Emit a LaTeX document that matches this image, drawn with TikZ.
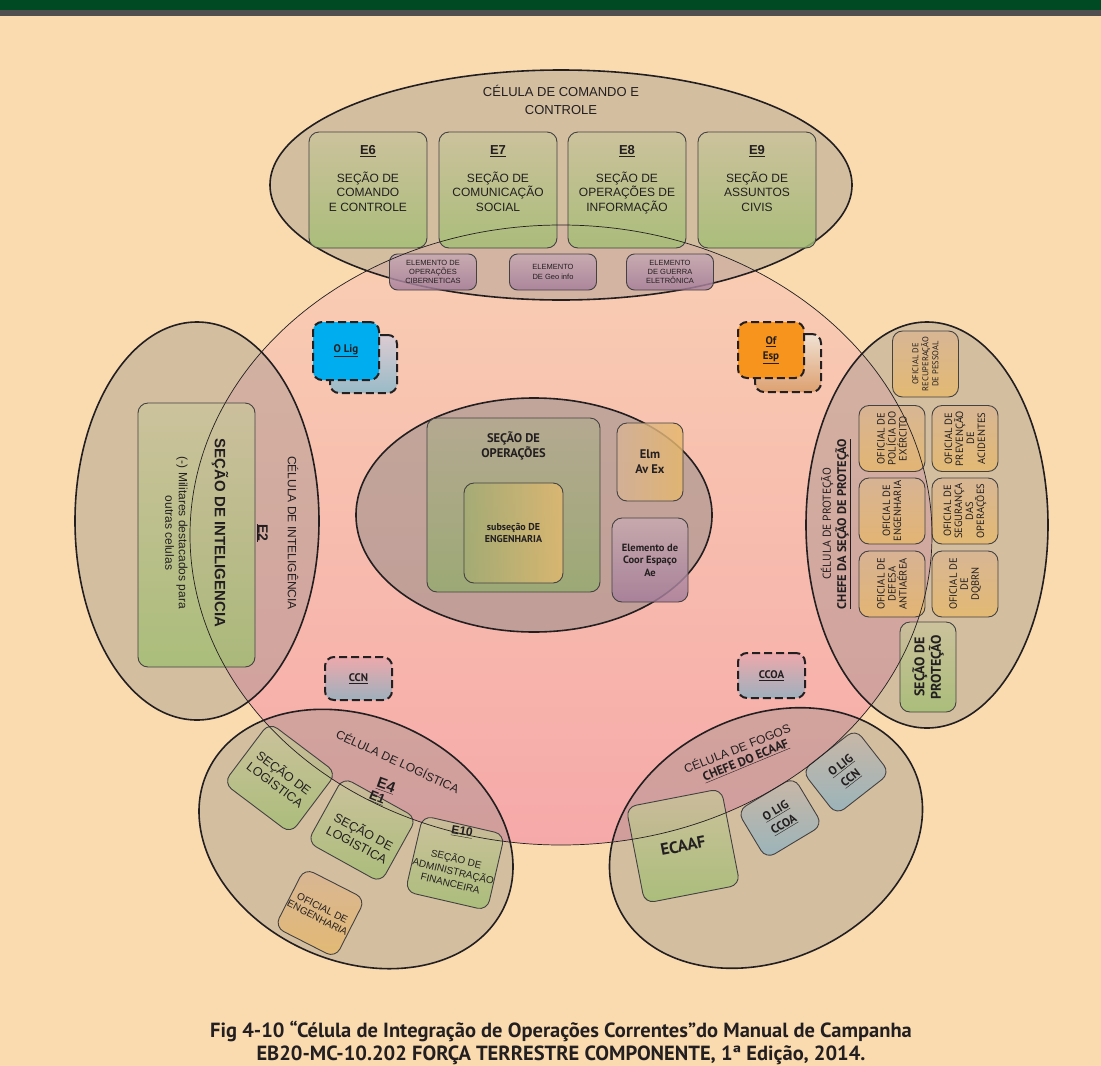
\documentclass[tikz,border=0pt]{standalone}
\usepackage{fontspec}
\setmainfont{Liberation Sans}
\newfontfamily\myr{PT Sans}
\usetikzlibrary{positioning,calc}
\definecolor{bgpeach}{HTML}{FADBB0}
\definecolor{bargreen}{HTML}{004A23}
\definecolor{bargrey}{HTML}{4F4F4F}
\definecolor{circtop}{HTML}{F9CFB3}
\definecolor{circbot}{HTML}{F6A9A9}
\definecolor{cellgrey}{HTML}{8D8885}
\definecolor{inkc}{HTML}{231F20}
\definecolor{gtop}{HTML}{CBC39C}
\definecolor{gbot}{HTML}{A2BE73}
\definecolor{ptop}{HTML}{C6A9B4}
\definecolor{pbot}{HTML}{A47C9A}
\definecolor{otop}{HTML}{D9B592}
\definecolor{obot}{HTML}{E7B86A}
\definecolor{btop}{HTML}{C8B6A8}
\definecolor{bbot}{HTML}{8DB3C1}
\definecolor{cyanlig}{HTML}{00AEEF}
\definecolor{orgesp}{HTML}{F7941D}
\definecolor{espbot}{HTML}{DDA070}
\tikzset{
  cell/.style  ={draw=inkc, line width=1.6pt, fill=cellgrey, fill opacity=0.35},
  cellc/.style ={cell, fill opacity=0.5},
  box/.style   ={rectangle, rounded corners=10pt, draw=inkc!85, line width=0.9pt,
                 fill opacity=0.82, text opacity=1, text=inkc, align=center, inner sep=1pt},
  sec/.style   ={box, top color=gtop, bottom color=gbot},
  seclbl/.style={text=inkc, align=center, inner sep=0pt, font=\fontsize{12}{14.5}\selectfont},
  elem/.style  ={box, top color=ptop, bottom color=pbot, rounded corners=8pt,
                 minimum width=87pt, minimum height=36pt, font=\fontsize{7.5}{9.3}\selectfont},
  ofc/.style   ={box, top color=otop, bottom color=obot, rotate=90,
                 minimum width=66pt, minimum height=66pt, font=\myr\fontsize{10.5}{11}\selectfont},
  ligb/.style  ={box, top color=btop, bottom color=bbot,
                 font=\myr\bfseries\fontsize{12}{16}\selectfont},
  dsh/.style   ={rectangle, rounded corners=9pt, draw=inkc, line width=2pt,
                 dash pattern=on 8pt off 4pt, align=center, text=inkc,
                 font=\myr\bfseries\fontsize{11}{15}\selectfont},
  lbl/.style   ={text=inkc, align=center, inner sep=0pt},
  lblb/.style  ={lbl, font=\myr\bfseries\fontsize{12.5}{15}\selectfont}
}
\begin{document}
\begin{tikzpicture}[x=1pt, y=-1pt]
  % page, header band
  \useasboundingbox (0,0) rectangle (1101,1066);
  \fill[bgpeach] (0,0) rectangle (1101,1066);
  \fill[bargreen] (0,0) rectangle (1101,9.5);
  \fill[bargrey] (0,9.5) rectangle (1101,15.5);

  % integration circle (outline drawn at the end)
  \shade[top color=circtop, bottom color=circbot] (561,535) ellipse [x radius=371pt, y radius=310pt];

  % cells
  \draw[cell] (561,185) ellipse [x radius=291pt, y radius=115pt];
  \draw[cell] (197,521) ellipse [x radius=122pt, y radius=199pt];
  \draw[cell] (927,525) ellipse [x radius=121pt, y radius=203pt];
  \draw[cell, rotate around={-24:(356,839)}] (356,839) ellipse [x radius=163pt, y radius=122pt];
  \draw[cell, rotate around={25:(766,838)}] (766,838) ellipse [x radius=163pt, y radius=122pt];
  \draw[cellc] (534,515) ellipse [x radius=178pt, y radius=117pt];

  % comando e controle
  \node[lbl, font=\fontsize{13}{17.5}\selectfont] (c2cell) at (561,100) {CÉLULA DE COMANDO E\\CONTROLE};
  \node[sec, minimum width=118pt, minimum height=116pt] (e6) at (368,190) {};
  \node[sec, minimum width=118pt, minimum height=116pt] (e7) at (498,190) {};
  \node[sec, minimum width=118pt, minimum height=116pt] (e8) at (627,190) {};
  \node[sec, minimum width=118pt, minimum height=116pt] (e9) at (757,190) {};
  \node[seclbl, below=14pt of e6.north] (e6l) {{\fontsize{13}{15}\selectfont\bfseries\underline{E6}}\\[13pt]SEÇÃO DE\\COMANDO\\E CONTROLE};
  \node[seclbl, below=14pt of e7.north] (e7l) {{\fontsize{13}{15}\selectfont\bfseries\underline{E7}}\\[13pt]SEÇÃO DE\\COMUNICAÇÃO\\SOCIAL};
  \node[seclbl, below=14pt of e8.north] (e8l) {{\fontsize{13}{15}\selectfont\bfseries\underline{E8}}\\[13pt]SEÇÃO DE\\OPERAÇÕES DE\\INFORMAÇÃO};
  \node[seclbl, below=14pt of e9.north] (e9l) {{\fontsize{13}{15}\selectfont\bfseries\underline{E9}}\\[13pt]SEÇÃO DE\\ASSUNTOS\\CIVIS};
  \node[elem] (ciber) at (433,272) {ELEMENTO DE\\OPERAÇÕES\\CIBERNETICAS};
  \node[elem] (geo) at (553,272) {ELEMENTO\\DE Geo info};
  \node[elem] (guerra) at (670,272) {ELEMENTO\\DE GUERRA\\ELETRÔNICA};

  % inteligencia
  \node[sec, rotate=-90, minimum width=264pt, minimum height=117pt] (e2box) at (196.5,535) {};
  \node[lbl, rotate=-90, font=\bfseries\fontsize{15}{17}\selectfont] (e2name) at (220,533) {SEÇÃO DE INTELIGENCIA};
  \node[lbl, rotate=-90, font=\fontsize{12}{13.5}\selectfont] (e2note) at (176.5,533) {(-) Militares destacados para\\outras celulas};
  \node[lbl, rotate=-90, font=\bfseries\fontsize{14}{16}\selectfont] (e2) at (262,533) {\underline{E2}};
  \node[lbl, rotate=-90, font=\fontsize{12}{14}\selectfont] (intcell) at (293,533) {CÉLULA DE INTELIGÊNCIA};

  % protecao
  \node[lbl, rotate=90, font=\myr\fontsize{11.5}{13}\selectfont] (protcell) at (827,524) {CÉLULA DE PROTEÇÃO};
  \node[lblb, rotate=90] (protchief) at (843,524) {\underline{CHEFE DA SEÇÃO DE PROTEÇÃO}};
  \node[ofc, font=\myr\fontsize{8.5}{10}\selectfont] (recup) at (925.5,364) {OFICIAL DE\\RECUPERAÇÃO\\DE PESSOAL};
  \node[ofc] (policia) at (892,438.5) {OFICIAL DE\\POLÍCIA DO\\EXÉRCITO};
  \node[ofc] (prevenc) at (965,438.5) {OFICIAL DE\\PREVENÇÃO\\DE\\ACIDENTES};
  \node[ofc] (engoff) at (892,511) {OFICIAL DE\\ENGENHARIA};
  \node[ofc] (segur) at (965,511) {OFICIAL DE\\SEGURANÇA\\DAS\\OPERAÇÕES};
  \node[ofc] (defesa) at (892,584) {OFICIAL DE\\DEFESA\\ANTIAÉREA};
  \node[ofc] (dqbrn) at (965,584) {OFICIAL DE\\DE\\DQBRN};
  \node[sec, rotate=90, minimum width=90pt, minimum height=56pt,
        font=\myr\bfseries\fontsize{14}{16.5}\selectfont] (secprot) at (928,667) {SEÇÃO DE\\PROTEÇÃO};

  % operacoes
  \node[box, top color=gtop!80!inkc!90, bottom color=gbot!85!inkc!95, minimum width=173pt, minimum height=174pt] (ops) at (513.5,505) {};
  \node[lblb, below=14pt of ops.north] (opsl) {SEÇÃO DE\\OPERAÇÕES};
  \node[box, left color=gbot!70!otop!90!inkc, right color=obot!90!gtop, minimum width=99pt, minimum height=100pt,
        font=\myr\bfseries\fontsize{10}{11.5}\selectfont] (subeng) at (513.5,533) {subseção DE\\ENGENHARIA};
  \node[box, left color=otop!85!ptop, right color=obot, minimum width=66pt, minimum height=78pt,
        font=\myr\bfseries\fontsize{12.5}{15}\selectfont] (avex) at (650,462) {Elm\\Av Ex};
  \node[box, top color=ptop!90!otop, bottom color=pbot, minimum width=76pt, minimum height=84pt,
        font=\myr\bfseries\fontsize{10.5}{12.5}\selectfont] (coor) at (650,560) {Elemento de\\Coor Espaço\\Ae};

  % ligacoes
  \node[dsh, top color=ptop!60!white, bottom color=bbot!90!white, minimum width=67pt, minimum height=58pt] (ligback) at (363.5,364) {};
  \node[dsh, fill=cyanlig, minimum width=66pt, minimum height=58pt] (lig) at (346,351) {\underline{O Lig}};
  \node[dsh, top color=otop!40!white, bottom color=espbot, minimum width=66pt, minimum height=58pt] (espback) at (788,363) {};
  \node[dsh, fill=orgesp, minimum width=66pt, minimum height=56pt] (esp) at (771,350) {\underline{Of}\\\underline{Esp}};
  \node[dsh, top color=circbot!80!ptop, bottom color=bbot!70!ptop, minimum width=67pt, minimum height=43pt] (ccn) at (358.5,678.5) {\underline{CCN}};
  \node[dsh, top color=circbot!80!ptop, bottom color=bbot!70!ptop, minimum width=67pt, minimum height=45pt] (ccoa) at (771.5,675.5) {\underline{CCOA}};

  % logistica
  \node[lbl, rotate=-25, font=\fontsize{12}{14}\selectfont] (logcell) at (398,761) {CÉLULA DE LOGÍSTICA};
  \node[sec, rotate=-37, minimum width=84pt, minimum height=76pt,
        font=\fontsize{12.5}{14.5}\selectfont] (log1) at (280,778) {SEÇÃO DE\\LOGISTICA};
  \node[sec, rotate=-29, minimum width=84pt, minimum height=74pt] (log2) at (362,830) {};
  \node[lbl, rotate=-28, font=\fontsize{12.5}{14.5}\selectfont] (log2t) at (360.5,837.5) {SEÇÃO DE\\LOGISTICA};
  \node[lbl, rotate=-22, font=\bfseries\fontsize{13}{15}\selectfont] (e1) at (377,798) {\underline{E1}};
  \node[lbl, rotate=-20, font=\bfseries\fontsize{15}{17}\selectfont] (e4) at (386,786) {\underline{E4}};
  \node[sec, rotate=-13, minimum width=84pt, minimum height=78pt] (log3) at (455,863) {};
  \node[lbl, rotate=-14, font=\fontsize{10}{12.5}\selectfont] (log3t) at (453.5,870.5) {SEÇÃO DE\\ADMINISTRAÇÃO\\FINANCEIRA};
  \node[lbl, rotate=-10, font=\bfseries\fontsize{12}{14}\selectfont] (e10) at (462,832) {\underline{E10}};
  \node[box, top color=otop, bottom color=obot, rotate=-27, minimum width=68pt, minimum height=66pt,
        font=\fontsize{10}{11}\selectfont] (logeng) at (320,913) {OFICIAL DE\\ENGENHARIA};

  % fogos
  \node[lbl, rotate=21.5, font=\fontsize{12}{14}\selectfont] (firecell) at (737,748) {CÉLULA DE FOGOS};
  \node[lblb, rotate=22.5] (firechief) at (746,761) {\underline{CHEFE DO ECAAF}};
  \node[sec, rotate=11, minimum width=97pt, minimum height=98pt,
        font=\myr\bfseries\fontsize{16.5}{18}\selectfont] (ecaaf) at (683,846) {ECAAF};
  \node[ligb, rotate=31, minimum width=66pt, minimum height=56pt] (ligccoa) at (780,818) {\underline{O LIG}\\\underline{CCOA}};
  \node[ligb, rotate=38, minimum width=68pt, minimum height=56pt] (ligccn) at (846,772) {\underline{O LIG}\\\underline{CCN}};

  % integration circle outline on top
  \draw[inkc, line width=0.7pt] (561,535) ellipse [x radius=371pt, y radius=310pt];

  % caption
  \node[lbl, font=\myr\bfseries\fontsize{20.5}{23}\selectfont] (caption) at (561,1043)
    {Fig 4-10 “Célula de Integração de Operações Correntes”do Manual de Campanha\\EB20-MC-10.202 FORÇA TERRESTRE COMPONENTE, 1ª Edição, 2014.};
\end{tikzpicture}
\end{document}
